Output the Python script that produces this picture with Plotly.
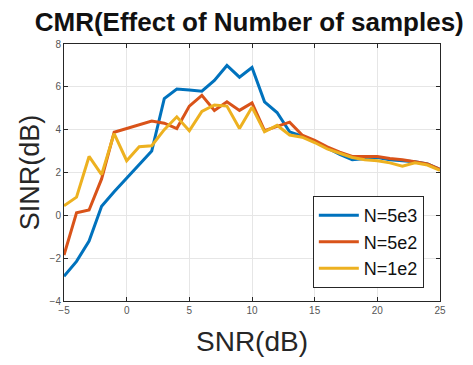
import plotly.graph_objects as go

snr = list(range(-5, 26))
sinr_5e3 = [-2.85, -2.15, -1.2, 0.42, 1.1, 1.75, 2.37, 3.0, 5.45, 5.9, 5.85, 5.8, 6.3, 7.0, 6.45, 6.9,
            5.3, 4.8, 3.9, 3.7, 3.45, 3.15, 2.85, 2.6, 2.65, 2.7, 2.6, 2.55, 2.5, 2.4, 2.15]
sinr_5e2 = [-1.85, 0.12, 0.25, 1.7, 3.88, 4.05, 4.2, 4.4, 4.3, 4.05, 5.1, 5.6, 4.9, 5.3, 4.9, 5.25,
            3.95, 4.15, 4.35, 3.75, 3.5, 3.2, 2.95, 2.75, 2.75, 2.75, 2.65, 2.6, 2.5, 2.4, 2.15]
sinr_1e2 = [0.45, 0.85, 2.75, 1.9, 3.82, 2.55, 3.2, 3.25, 4.0, 4.6, 3.95, 4.85, 5.15, 5.1, 4.05, 5.05,
            3.9, 4.2, 3.75, 3.65, 3.4, 3.1, 2.9, 2.7, 2.6, 2.55, 2.45, 2.3, 2.45, 2.35, 2.1]

names = ["N=5e3", "N=5e2", "N=1e2"]
colors = ["#0072BD", "#D95319", "#EDB120"]
series = [sinr_5e3, sinr_5e2, sinr_1e2]

fig = go.Figure()
for nm, col, ys in zip(names, colors, series):
    fig.add_trace(go.Scatter(x=snr, y=ys, mode="lines", name=nm,
                             line=dict(color=col, width=3)))

axis_common = dict(
    showgrid=True, gridcolor="#e6e6e6", gridwidth=1,
    showline=True, linecolor="#262626", linewidth=1, mirror="ticks",
    ticks="inside", ticklen=4, tickcolor="#262626",
    tickfont=dict(family="Liberation Sans, Arial", size=10, color="#555555"),
    zeroline=False,
)

fig.update_layout(
    width=473, height=365,
    margin=dict(l=64, r=33, t=44, b=64),
    paper_bgcolor="white", plot_bgcolor="white",
    title=dict(text="<b>CMR(Effect of Number of samples)</b>",
               font=dict(family="Liberation Sans, Arial", size=26, color="#111111"),
               x=0.527, xanchor="center", y=0.94, yanchor="middle"),
    xaxis=dict(range=[-5, 25], tickvals=[-5, 0, 5, 10, 15, 20, 25],
               title=dict(text="SNR(dB)", font=dict(family="Liberation Sans, Arial", size=28, color="#262626"),
                          standoff=16),
               **axis_common),
    yaxis=dict(range=[-4, 8], tickvals=[-4, -2, 0, 2, 4, 6, 8],
               title=dict(text="SINR(dB)", font=dict(family="Liberation Sans, Arial", size=27, color="#262626"),
                          standoff=2),
               **axis_common),
    legend=dict(x=0.957, y=0.05, xanchor="right", yanchor="bottom",
                bgcolor="white", bordercolor="#262626", borderwidth=1,
                font=dict(family="Liberation Sans, Arial", size=18, color="#111111"),
                tracegroupgap=0, itemwidth=40),
    showlegend=True,
)

fig.write_html("out.html")
